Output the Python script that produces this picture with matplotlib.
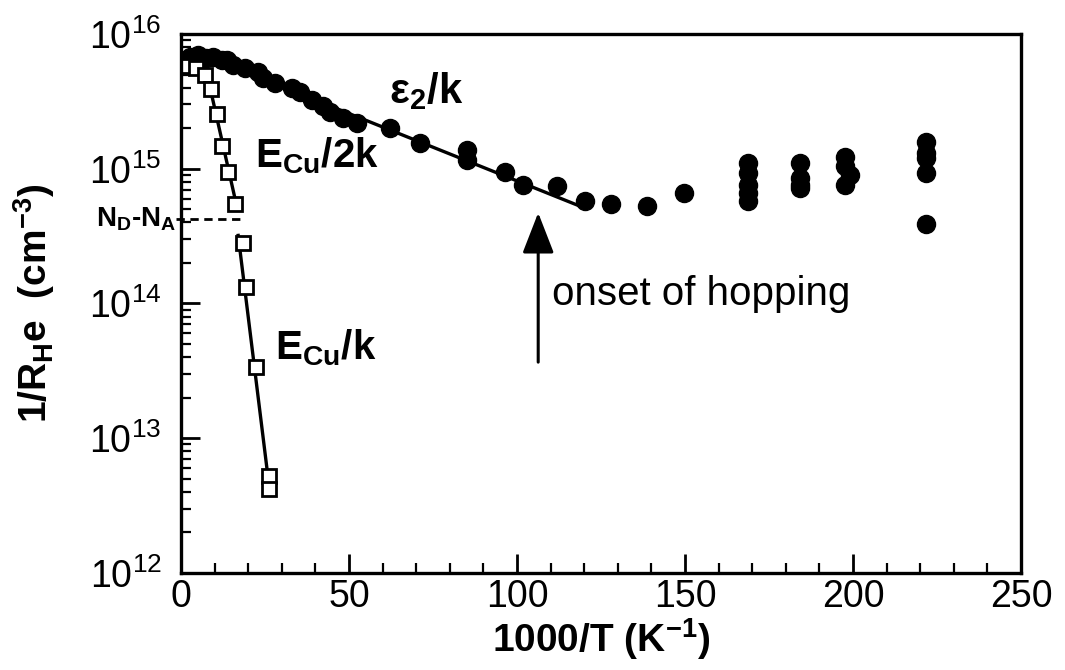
import numpy as np
import matplotlib
matplotlib.use('Agg')
import matplotlib.pyplot as plt

plt.rcParams['font.family'] = ['Liberation Sans', 'DejaVu Sans']
plt.rcParams['mathtext.default'] = 'regular'

# filled circles: 1/R_H e
circ_x = [1.5, 2.7, 5.1, 7.4, 9.5, 12.2, 13.7, 15.5, 19.0, 22.9, 24.4, 28.0, 33.0, 35.4,
          39.0, 42.3, 44.3, 48.2, 52.4, 62.2, 71.1, 85.1, 85.1, 96.4, 101.8, 111.9, 120.2,
          128.0, 138.7, 149.7,
          168.8, 168.8, 168.8, 168.8, 168.8,
          184.2, 184.2, 184.2, 184.2,
          197.6, 197.6, 199.0, 197.6,
          221.7, 221.7, 221.7, 221.7, 221.7]
circ_y = [6.4e15, 6.75e15, 7.0e15, 6.6e15, 6.75e15, 6.4e15, 6.4e15, 5.9e15, 5.6e15, 5.2e15,
          4.7e15, 4.3e15, 4.0e15, 3.7e15, 3.24e15, 2.9e15, 2.64e15, 2.38e15, 2.19e15, 2.0e15,
          1.55e15, 1.38e15, 1.16e15, 9.5e14, 7.6e14, 7.4e14, 5.8e14, 5.5e14, 5.3e14, 6.6e14,
          1.1e15, 9.3e14, 7.6e14, 6.6e14, 5.8e14,
          1.1e15, 8.5e14, 7.6e14, 7.2e14,
          1.22e15, 1.05e15, 9.0e14, 7.6e14,
          1.58e15, 1.31e15, 1.2e15, 9.3e14, 3.9e14]

# open squares
sq_x = [2.0, 4.5, 7.1, 8.9, 10.7, 12.2, 14.0, 16.1, 18.5, 19.3, 22.3, 26.2, 26.2]
sq_y = [5.8e15, 5.6e15, 5.0e15, 3.9e15, 2.55e15, 1.48e15, 9.5e14, 5.5e14, 2.8e14,
        1.33e14, 3.4e13, 5.2e12, 4.2e12]

# fitted lines
eps2_x = [14.6, 120.2]
eps2_y = [5.8e15, 5.1e14]
ecu2_x = [8.0, 16.7]
ecu2_y = [4.7e15, 5.1e14]
ecu_x = [17.0, 25.9]
ecu_y = [3.2e14, 5.1e12]

nd_na = 4.24e14

fig = plt.figure(figsize=(10.65, 6.70), dpi=100)
ax = fig.add_axes([0.170, 0.1448, 0.7887, 0.8045])

ax.plot(eps2_x, eps2_y, color='black', lw=2.4)
ax.plot(ecu2_x, ecu2_y, color='black', lw=2.4)
ax.plot(ecu_x, ecu_y, color='black', lw=2.4)
ax.plot(circ_x, circ_y, 'o', color='black', ms=13, mec='black')
ax.plot(sq_x, sq_y, 's', mfc='white', mec='black', mew=2, ms=10)

ax.plot([-1.5, 17.5], [nd_na, nd_na], color='black', ls=(0, (3, 2)), lw=2, clip_on=False)

ax.set_yscale('log')
ax.set_xlim(0, 250)
ax.set_ylim(1e12, 1e16)
ax.set_xticks([0, 50, 100, 150, 200, 250])
ax.set_xticks(np.arange(0, 251, 10), minor=True)

for s in ax.spines.values():
    s.set_linewidth(2.4)
ax.tick_params(which='both', direction='in', top=False, right=False, labelsize=27)
ax.tick_params(axis='y', pad=14)
ax.tick_params(axis='x', pad=4)
ax.tick_params(which='major', length=14, width=2)
ax.tick_params(which='minor', length=7, width=1.6)

ax.set_xlabel('1000/T (K$^{-1}$)', fontsize=28, fontweight='bold', labelpad=1)
ax.set_ylabel('1/R$_H$e  (cm$^{-3}$)', fontsize=28, fontweight='bold')
ax.yaxis.set_label_coords(-0.148, 0.5)

ax.text(62, 3.08e15, 'ε$_2$/k', fontsize=30, fontweight='bold', va='baseline')
ax.text(22, 1.03e15, 'E$_{Cu}$/2k', fontsize=29, fontweight='bold', va='baseline')
ax.text(28, 3.87e13, 'E$_{Cu}$/k', fontsize=29, fontweight='bold', va='baseline')
ax.text(110.5, 9.75e13, 'onset of hopping', fontsize=29, va='baseline')
ax.text(-1.5, nd_na, 'N$_D$-N$_A$', fontsize=20, fontweight='bold', va='center', ha='right')

ax.annotate('', xy=(106.3, 4.94e14), xytext=(106.3, 3.5e13),
            arrowprops=dict(arrowstyle='-|>,head_width=0.35,head_length=0.9',
                            color='black', lw=2.2, mutation_scale=28))

fig.savefig('out.png', dpi=100)
